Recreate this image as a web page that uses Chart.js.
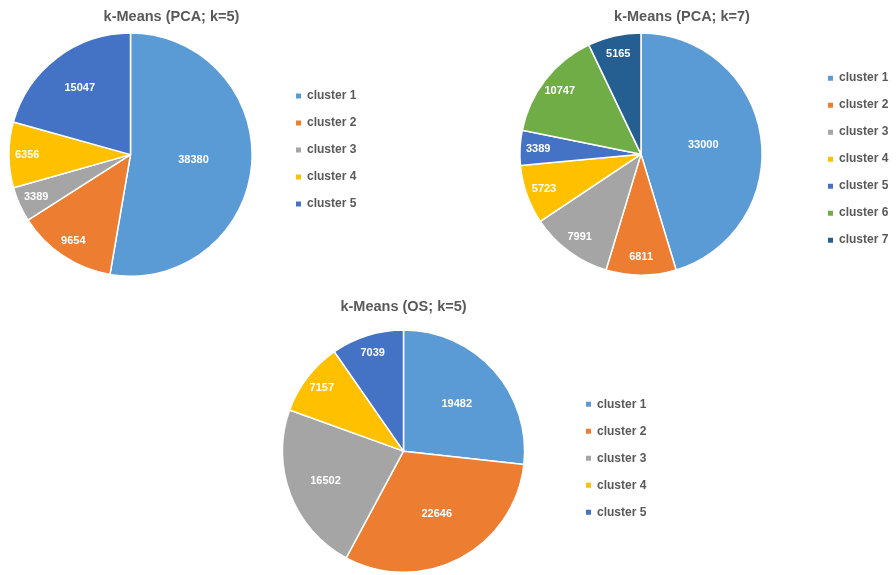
<!DOCTYPE html>
<html>
<head>
<meta charset="utf-8">
<title>k-Means cluster sizes</title>
<script src="https://cdn.jsdelivr.net/npm/chart.js@4.4.1/dist/chart.umd.min.js"></script>
<style>
  html, body { margin: 0; padding: 0; background: #ffffff; }
  body { position: relative; width: 896px; height: 575px; overflow: hidden; }
  .panel { position: absolute; }
</style>
</head>
<body>
<div class="panel" style="left:-20px; top:0px; width:383px; height:277px;"><canvas id="pcaK5"></canvas></div>
<div class="panel" style="left:469px; top:0px; width:426px; height:276px;"><canvas id="pcaK7"></canvas></div>
<div class="panel" style="left:236px; top:290px; width:417px; height:283px;"><canvas id="osK5"></canvas></div>
<script>
// Cluster names and the Office-style palette shared by all three pies
const clusterLabels = ['cluster 1', 'cluster 2', 'cluster 3', 'cluster 4', 'cluster 5', 'cluster 6', 'cluster 7'];
const clusterColors = ['#5B9BD5', '#ED7D31', '#A5A5A5', '#FFC000', '#4472C4', '#70AD47', '#255E91'];

// Cluster sizes per clustering run
const pcaK5Title = 'k-Means (PCA; k=5)';
const pcaK5Values = [38380, 9654, 3389, 6356, 15047];

const pcaK7Title = 'k-Means (PCA; k=7)';
const pcaK7Values = [33000, 6811, 7991, 5723, 3389, 10747, 5165];

const osK5Title = 'k-Means (OS; k=5)';
const osK5Values = [19482, 22646, 16502, 7157, 7039];

const FONT = '"Liberation Sans", Arial, sans-serif';
const TEXT_GREY = '#595959';

// Writes each slice's count inside it; narrow slices get their label pushed outwards
const sliceValueLabels = {
  id: 'sliceValueLabels',
  afterDatasetsDraw(chart) {
    const { ctx } = chart;
    const meta = chart.getDatasetMeta(0);
    const values = chart.data.datasets[0].data;
    ctx.save();
    ctx.font = 'bold 11px ' + FONT;
    ctx.fillStyle = '#ffffff';
    ctx.textAlign = 'center';
    ctx.textBaseline = 'middle';
    meta.data.forEach((arc, i) => {
      const p = arc.getProps(['x', 'y', 'startAngle', 'endAngle', 'outerRadius'], true);
      const span = (p.endAngle - p.startAngle) * 180 / Math.PI;
      const k = span > 140 ? 0.52 : span > 90 ? 0.59 : span > 60 ? 0.69 : 0.85;
      const mid = (p.startAngle + p.endAngle) / 2;
      ctx.fillText(String(values[i]),
        p.x + Math.cos(mid) * p.outerRadius * k,
        p.y + Math.sin(mid) * p.outerRadius * k);
    });
    ctx.restore();
  }
};

const basePieLabels = Chart.overrides.pie.plugins.legend.labels.generateLabels;

function makePie(id, title, values, o) {
  const n = values.length;
  return new Chart(document.getElementById(id), {
    type: 'pie',
    data: {
      labels: clusterLabels.slice(0, n),
      datasets: [{
        data: values,
        backgroundColor: clusterColors.slice(0, n),
        borderColor: '#ffffff',
        borderWidth: 1.5
      }]
    },
    options: {
      responsive: true,
      maintainAspectRatio: false,
      animation: false,
      layout: { padding: 0 },
      plugins: {
        title: {
          display: true,
          text: title,
          color: TEXT_GREY,
          fullSize: o.titleFull,
          font: { family: FONT, size: 14.5, weight: 'bold', lineHeight: 1.2 },
          padding: { top: 7.8, bottom: o.titleGap }
        },
        legend: {
          position: 'right',
          align: 'center',
          fullSize: o.legendFull,
          maxWidth: 82,
          title: {
            display: true,
            text: '',
            font: { size: 1, lineHeight: 1 },
            padding: { top: o.legendDrop, bottom: 0 }
          },
          labels: {
            boxWidth: 5,
            boxHeight: 5,
            padding: 15,
            color: TEXT_GREY,
            font: { family: FONT, size: 12, weight: 'bold' },
            generateLabels: (chart) => basePieLabels(chart).map(item => ({ ...item, lineWidth: 0 }))
          }
        },
        tooltip: { enabled: false }
      }
    },
    plugins: [sliceValueLabels]
  });
}

makePie('pcaK5', pcaK5Title, pcaK5Values, { titleFull: true, titleGap: 7.1, legendFull: true, legendDrop: 22 });
makePie('pcaK7', pcaK7Title, pcaK7Values, { titleFull: true, titleGap: 7.1, legendFull: false, legendDrop: 9 });
makePie('osK5', osK5Title, osK5Values, { titleFull: false, titleGap: 14.1, legendFull: false, legendDrop: 13.3 });
</script>
</body>
</html>
